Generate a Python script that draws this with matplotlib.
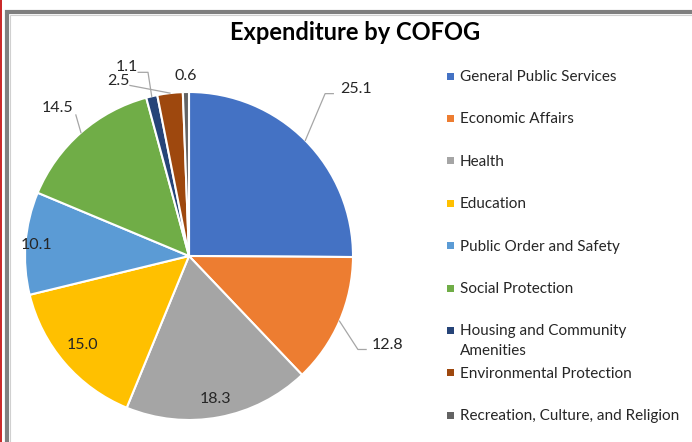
import numpy as np
import matplotlib.pyplot as plt
from matplotlib.patches import Rectangle
from matplotlib.lines import Line2D

categories = ['General Public Services', 'Economic Affairs', 'Health', 'Education',
              'Public Order and Safety', 'Social Protection',
              'Housing and Community\nAmenities', 'Environmental Protection',
              'Recreation, Culture, and Religion']
values = [25.1, 12.8, 18.3, 15.0, 10.1, 14.5, 1.1, 2.5, 0.6]
colors = ['#4472C4', '#ED7D31', '#A5A5A5', '#FFC000', '#5B9BD5',
          '#70AD47', '#264478', '#9E480E', '#636363']

# label placement in pie data units (radius = 1) and leader line bends
label_xy = [(1.02, 1.02), (1.21, -0.54), (0.16, -0.87), (-0.65, -0.54),
            (-0.93, 0.07), (-0.80, 0.90), (-0.38, 1.15), (-0.43, 1.07), (-0.02, 1.10)]
leader = {0: [(0.83, 0.99), (0.88, 0.99)],
          1: [(1.03, -0.57), (1.08, -0.57)],
          5: [(-0.69, 0.86)],
          6: [(-0.25, 1.12), (-0.31, 1.12)],
          7: [(-0.36, 1.04)]}

W, H = 692, 442
fig = plt.figure(figsize=(W / 100, H / 100), dpi=100)
plt.rcParams['font.family'] = ['Lato', 'DejaVu Sans']

# frame of the embedded chart
fig.add_artist(Line2D([1.5 / W, 1.5 / W], [0, 1], color='#C00000', lw=1.2))
fig.add_artist(Rectangle((7 / W, -0.1), 1.2, 1 - 12 / H + 0.1, fill=False,
                         edgecolor='#7F7F7F', lw=3))
fig.add_artist(Rectangle((9.5 / W, -0.1), 1.2, 1 - 14.5 / H + 0.1, fill=False,
                         edgecolor='#D0D0D0', lw=0.8))

cx, cy, r = 189, 256, 164
ax = fig.add_axes([(cx - r) / W, (H - cy - r) / H, 2 * r / W, 2 * r / H])
wedges, _ = ax.pie(values, colors=colors, startangle=90, counterclock=False,
                   wedgeprops=dict(edgecolor='white', linewidth=1.5))
ax.set_xlim(-1, 1)
ax.set_ylim(-1, 1)
ax.set_aspect('equal')
ax.axis('off')

for i, w in enumerate(wedges):
    mid = np.deg2rad((w.theta1 + w.theta2) / 2)
    tx, ty = label_xy[i]
    ax.text(tx, ty, f'{values[i]:.1f}', ha='center', va='center',
            fontsize=11.5, color='#262626', clip_on=False)
    if i in leader:
        pts = [(np.cos(mid), np.sin(mid))] + leader[i]
        xs, ys = zip(*pts)
        ax.plot(xs, ys, color='#A6A6A6', lw=0.9, clip_on=False)

fig.text(355 / W, 1 - 32 / H, 'Expenditure by COFOG', ha='center', va='center',
         fontsize=17, fontweight='bold', color='#000000')

for i, (lab, col) in enumerate(zip(categories, colors)):
    y = 76 + i * 42.4
    fig.add_artist(Rectangle(((450 - 3.5) / W, 1 - (y + 3.5) / H), 7 / W, 7 / H,
                             facecolor=col, edgecolor='none'))
    fig.text(460 / W, 1 - (y - 6) / H, lab, ha='left', va='top', fontsize=11,
             color='#262626', linespacing=1.55)

fig.savefig('out.png', dpi=100)
